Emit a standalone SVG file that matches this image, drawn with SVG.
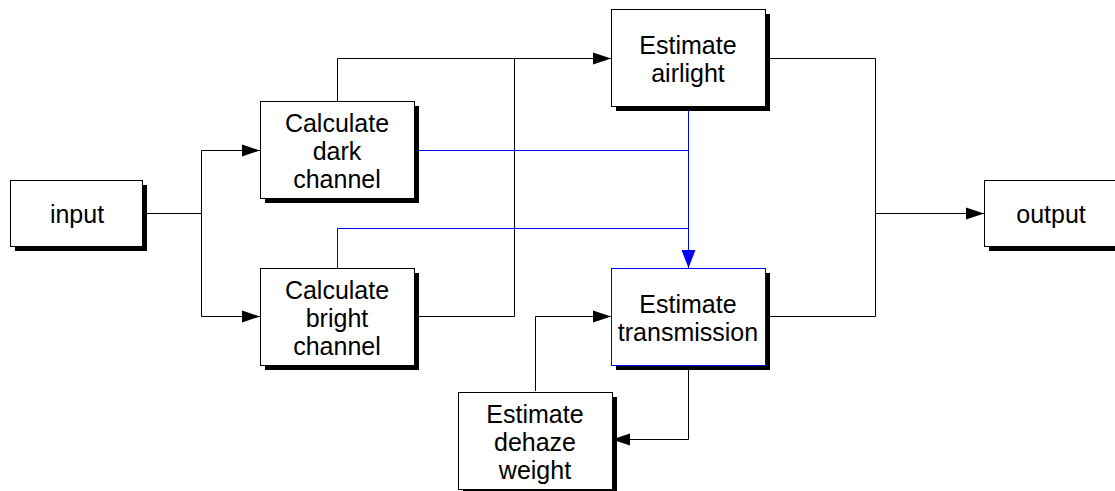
<svg xmlns="http://www.w3.org/2000/svg" width="1115" height="491" viewBox="0 0 1115 491">
<style>
.box{fill:#fff;stroke:#000;stroke-width:1}
.bbox{fill:#fff;stroke:#0000ff;stroke-width:1}
.sh{fill:#000}
.t{font-family:"Liberation Sans",Arial,sans-serif;font-size:25px;fill:#000;text-anchor:middle}
.c{fill:none;stroke:#000;stroke-width:1}
.cb{fill:none;stroke:#0000ff;stroke-width:1}
</style>
<defs>
<marker id="ah" markerUnits="userSpaceOnUse" markerWidth="18" markerHeight="14" refX="18" refY="7" orient="auto"><path d="M0,1 L18,7 L0,13 Z" fill="#000"/></marker>
<marker id="ahb" markerUnits="userSpaceOnUse" markerWidth="18" markerHeight="14" refX="18" refY="7" orient="auto"><path d="M0,0 L18,7 L0,14 Z" fill="#0000ff"/></marker>
</defs>
<rect width="1115" height="491" fill="#fff"/>
<g id="connectors">
<path class="c" d="M142.5,213.5 H201.5"/>
<path class="c" d="M201.5,150.5 V316.5"/>
<path class="c" d="M201.5,150.5 H260" marker-end="url(#ah)"/>
<path class="c" d="M201.5,316.5 H260" marker-end="url(#ah)"/>
<path class="c" d="M337.5,101 V58.5 H514.5"/>
<path class="c" d="M414,316.5 H514.5 V58.5 H611" marker-end="url(#ah)"/>
<path class="cb" d="M414,150.5 H688.5"/>
<path class="cb" d="M337.5,268 V228.5 H688.5"/>
<path class="cb" d="M688.5,106 V268" marker-end="url(#ahb)"/>
<path class="c" d="M765,58.5 H875.5 V316.5 H765"/>
<path class="c" d="M875.5,213.5 H984" marker-end="url(#ah)"/>
<path class="c" d="M535.5,391 V316.5 H611" marker-end="url(#ah)"/>
<path class="c" d="M688.5,365 V439.5 H612" marker-end="url(#ah)"/>
</g>
<g id="input">
<rect class="sh" x="15" y="185" width="132" height="66"/>
<rect class="box" x="10.5" y="180.5" width="132" height="66"/>
<text class="t" x="77" y="223">input</text>
</g>
<g id="dark">
<rect class="sh" x="265" y="106" width="154" height="97"/>
<rect class="box" x="260.5" y="101.5" width="154" height="97"/>
<text class="t" x="337" y="132">Calculate</text>
<text class="t" x="337" y="160">dark</text>
<text class="t" x="337" y="188">channel</text>
</g>
<g id="bright">
<rect class="sh" x="265" y="273" width="154" height="97"/>
<rect class="box" x="260.5" y="268.5" width="154" height="97"/>
<text class="t" x="337" y="299">Calculate</text>
<text class="t" x="337" y="327">bright</text>
<text class="t" x="337" y="355">channel</text>
</g>
<g id="airlight">
<rect class="sh" x="616" y="14" width="154" height="97"/>
<rect class="box" x="611.5" y="9.5" width="154" height="97"/>
<text class="t" x="688" y="54">Estimate</text>
<text class="t" x="688" y="82">airlight</text>
</g>
<g id="transmission">
<rect class="sh" x="616" y="273" width="154" height="97"/>
<rect class="bbox" x="611.5" y="268.5" width="154" height="97"/>
<text class="t" x="688" y="313">Estimate</text>
<text class="t" x="688" y="341">transmission</text>
</g>
<g id="weight">
<rect class="sh" x="463" y="397" width="154" height="97"/>
<rect class="box" x="458.5" y="392.5" width="154" height="97"/>
<text class="t" x="535" y="423">Estimate</text>
<text class="t" x="535" y="451">dehaze</text>
<text class="t" x="535" y="479">weight</text>
</g>
<g id="output">
<rect class="sh" x="989" y="185" width="140" height="66"/>
<rect class="box" x="984.5" y="180.5" width="140" height="66"/>
<text class="t" x="1051" y="223">output</text>
</g>
</svg>
